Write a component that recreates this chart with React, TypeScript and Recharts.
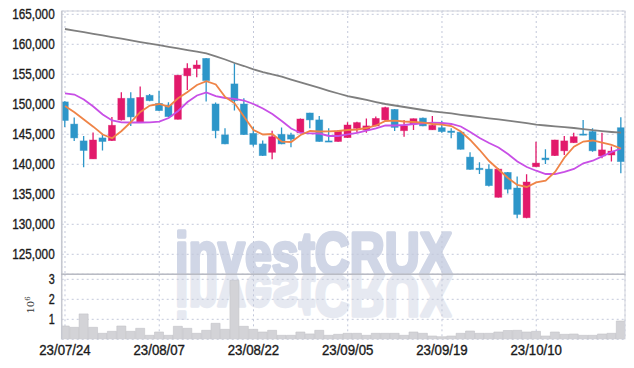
import React from 'react';
import { ComposedChart, Bar, Line, XAxis, YAxis, CartesianGrid } from 'recharts';

const dates = [
  '23/07/24', '23/07/25', '23/07/26', '23/07/27', '23/07/28', '23/07/31', '23/08/01', '23/08/02', '23/08/03', '23/08/04',
  '23/08/07', '23/08/08', '23/08/09', '23/08/10', '23/08/11', '23/08/14', '23/08/16', '23/08/17', '23/08/18', '23/08/21',
  '23/08/22', '23/08/23', '23/08/24', '23/08/25', '23/08/28', '23/08/29', '23/08/30', '23/08/31', '23/09/01', '23/09/04',
  '23/09/05', '23/09/06', '23/09/07', '23/09/08', '23/09/11', '23/09/12', '23/09/13', '23/09/14', '23/09/15', '23/09/18',
  '23/09/19', '23/09/20', '23/09/21', '23/09/22', '23/09/25', '23/09/26', '23/09/27', '23/10/04', '23/10/05', '23/10/06',
  '23/10/10', '23/10/11', '23/10/12', '23/10/13', '23/10/16', '23/10/17', '23/10/18', '23/10/19', '23/10/20', '23/10/23',
];

const opens = [
  150400, 146700, 143900, 140900, 144400, 143950, 147400, 151000, 146950, 151500,
  150150, 149850, 147500, 154750, 155950, 157650, 150050, 144900, 153400, 150050,
  145150, 143400, 142000, 145000, 144900, 145250, 148550, 147400, 143900, 143800,
  144450, 146000, 145700, 146400, 147400, 149150, 145600, 146700, 147700, 145750,
  146100, 145550, 145350, 141200, 139350, 139200, 134500, 138650, 136050, 131100,
  139600, 141050, 141450, 142250, 143600, 145050, 145450, 141400, 141550, 146100,
];
const closes = [
  147300, 144400, 142300, 144050, 143800, 146500, 151000, 147900, 151150, 150600,
  148950, 147950, 154850, 156000, 156550, 153950, 145600, 143400, 150600, 144950,
  143300, 141450, 144600, 143400, 144200, 147550, 147400, 143800, 143750, 145550,
  146550, 146950, 146400, 147650, 149450, 146150, 146400, 147600, 146400, 146500,
  145450, 145300, 142500, 139150, 139100, 136450, 139200, 135850, 131650, 137050,
  140200, 140750, 144050, 143900, 144600, 144900, 142250, 142400, 142200, 140450,
];
const highs = [
  150500, 147800, 144700, 145300, 145000, 147900, 152000, 152000, 152950, 151700,
  152250, 150350, 154900, 156850, 157350, 157700, 150300, 146000, 156850, 151000,
  146250, 143950, 145600, 146150, 145250, 147650, 148600, 148050, 146000, 145700,
  147000, 147100, 147650, 147950, 149600, 149200, 147400, 147650, 147800, 148050,
  147250, 146000, 145400, 142000, 140350, 140000, 139350, 138700, 137950, 138350,
  143750, 142500, 144100, 144700, 145250, 147400, 146000, 145250, 142950, 147850,
];
const lows = [
  146200, 143900, 139500, 140900, 142300, 143900, 147300, 146400, 146900, 150500,
  148900, 147900, 147450, 152400, 154500, 150450, 144350, 143350, 148950, 144900,
  142950, 141400, 140850, 143350, 142850, 145200, 146000, 143750, 143700, 143750,
  144400, 145250, 145250, 146350, 147100, 145550, 144600, 145700, 146350, 145700,
  145250, 144350, 142450, 139100, 138400, 136300, 134450, 135150, 131000, 131000,
  139550, 140050, 141400, 141550, 143550, 144850, 142100, 141000, 140450, 138500,
];
const volumes = [
  665000, 600000, 1270000, 600000, 300000, 400000, 665000, 400000, 550000, 200000,
  365000, 200000, 650000, 550000, 300000, 450000, 800000, 500000, 2950000, 650000,
  500000, 365000, 450000, 200000, 200000, 365000, 270000, 450000, 200000, 250000,
  300000, 300000, 200000, 300000, 300000, 300000, 200000, 365000, 300000, 165000,
  130000, 165000, 300000, 415000, 300000, 300000, 365000, 440000, 450000, 365000,
  400000, 165000, 365000, 250000, 265000, 200000, 200000, 265000, 300000, 915000,
];
const ma5 = [
  149720, 148670, 147470, 146270, 144970, 144330, 145550, 147050, 148720, 149800,
  150050, 149600, 151000, 152050, 153220, 153850, 153300, 151220, 150170, 147930,
  145720, 144970, 145050, 143770, 143720, 144880, 145550, 145470, 145500, 145550,
  145720, 145800, 146050, 146470, 147220, 147270, 147130, 147050, 146930, 146720,
  146630, 146380, 145470, 144050, 142380, 140550, 139130, 137720, 136550, 136220,
  136970, 137270, 138720, 141130, 142930, 143800, 143970, 143600, 143220, 142630,
];
const ma10 = [
  151830, 151630, 150800, 149630, 148300, 147300, 147000, 146970, 146970, 147000,
  147100, 147720, 148880, 150380, 151470, 151970, 151380, 151050, 150920, 150630,
  150050, 149300, 148380, 147220, 145970, 145220, 145170, 145130, 144720, 144720,
  144970, 145220, 145630, 146000, 146500, 146470, 146550, 146720, 146830, 146930,
  146880, 146720, 146300, 145380, 144380, 143550, 142800, 141720, 140470, 139550,
  138930, 138380, 138380, 138720, 139220, 140170, 140600, 141330, 142050, 142630,
];
const ma60 = [
  162550, 162280, 162020, 161730, 161470, 161200, 160930, 160670, 160380, 160120,
  159850, 159580, 159320, 159030, 158770, 158470, 157970, 157470, 156880, 156380,
  155830, 155380, 154970, 154600, 154130, 153670, 153180, 152720, 152250, 151800,
  151380, 151050, 150720, 150380, 150050, 149800, 149550, 149300, 149050, 148830,
  148670, 148470, 148250, 148050, 147850, 147650, 147480, 147280, 147080, 146850,
  146630, 146470, 146330, 146180, 146050, 145880, 145680, 145520, 145380, 145270,
];

const xTicks = [0, 10, 20, 30, 40, 50];
const priceTicks = [125000, 130000, 135000, 140000, 145000, 150000, 155000, 160000, 165000];
const volTicks = [1000000, 2000000, 3000000];

const data = dates.map((d, i) => ({
  i,
  date: d,
  open: opens[i],
  close: closes[i],
  high: highs[i],
  low: lows[i],
  range: [lows[i], highs[i]],
  vol: volumes[i],
  ma5: ma5[i],
  ma10: ma10[i],
  ma60: ma60[i],
}));

const RED = '#e2196b';
const BLUE = '#2d96c9';
const FONT = "'Liberation Sans', Arial, sans-serif";
const GRID = '#c3c8da';

const Candle = (props: any) => {
  const { x, y, width, height, payload } = props;
  if (!payload || height == null) return null;
  const { open, close, high, low } = payload;
  const up = close >= open;
  const color = up ? RED : BLUE;
  const k = height / (high - low || 1);
  const yO = y + (high - open) * k;
  const yC = y + (high - close) * k;
  const top = Math.min(yO, yC);
  const h = Math.max(Math.abs(yC - yO), 1.2);
  const cx = x + width / 2;
  return (
    <g>
      <line x1={cx} x2={cx} y1={y} y2={y + height} stroke={color} strokeWidth={1.3} />
      <rect x={x} y={top} width={width} height={h} fill={color} stroke={color} strokeOpacity={0.5} strokeWidth={0.8} />
    </g>
  );
};

const PriceTick = (props: any) => {
  const { x, y, payload } = props;
  const label = Number(payload.value).toLocaleString('en-US');
  return (
    <text x={x} y={y} dy="0.36em" textAnchor="end" fontSize={14} fontFamily={FONT} fill="#1a1a1a" stroke="#1a1a1a" strokeWidth={0.35} textLength={42.5} lengthAdjust="spacingAndGlyphs">{label}</text>
  );
};

const VolTick = (props: any) => {
  const { x, y, payload } = props;
  return (
    <text x={x} y={y} dy="0.36em" textAnchor="end" fontSize={14} fontFamily={FONT} fill="#1a1a1a" stroke="#1a1a1a" strokeWidth={0.35} textLength={6} lengthAdjust="spacingAndGlyphs">{String(payload.value / 1000000)}</text>
  );
};

const DateTick = (props: any) => {
  const { x, y, payload } = props;
  return (
    <text x={x} y={y} dy="0.71em" textAnchor="middle" fontSize={14} fontFamily={FONT} fill="#1a1a1a" stroke="#1a1a1a" strokeWidth={0.35} textLength={51.5} lengthAdjust="spacingAndGlyphs">{dates[payload.value]}</text>
  );
};

const WM_FONT = "'Liberation Sans', Arial, sans-serif";

export default function App() {
  return (
    <div style={{ position: 'absolute', left: 0, top: 0, width: 634, height: 368, background: '#fff', overflow: 'hidden' }}>
      <svg width={634} height={368} style={{ position: 'absolute', left: 0, top: 0 }}>
        <defs>
          <clipPath id="volClip"><rect x={62} y={275} width={563} height={64.3} /></clipPath>
          <clipPath id="priceClip"><rect x={62} y={11} width={563} height={263} /></clipPath>
        </defs>
        <g clipPath="url(#priceClip)">
          <text x={175} y={273.8} fontSize={59} fontWeight="bold" fill="#d0d6e6" stroke="#d0d6e6" strokeWidth={3.4} strokeLinejoin="round" textLength={277} lengthAdjust="spacingAndGlyphs" fontFamily={WM_FONT}>investCRUX</text>
        </g>
        <g clipPath="url(#volClip)">
          <g transform="translate(0,549) scale(1,-1)">
            <text x={175} y={273.8} fontSize={59} fontWeight="bold" fill="#e6e9f1" stroke="#e6e9f1" strokeWidth={3.4} strokeLinejoin="round" textLength={277} lengthAdjust="spacingAndGlyphs" fontFamily={WM_FONT}>investCRUX</text>
          </g>
        </g>
      </svg>
      <div style={{ position: 'absolute', left: 0, top: 0 }}>
        <ComposedChart width={634} height={275} data={data} margin={{ top: 11, right: 9, left: 0, bottom: 0.7 }}>
          <CartesianGrid strokeDasharray="2 3" stroke={GRID} />
          <XAxis type="number" dataKey="i" domain={[-0.35, 59.42]} ticks={xTicks} hide allowDataOverflow />
          <YAxis type="number" domain={[121667, 165550]} ticks={priceTicks} width={61.7} axisLine={false} tickLine={false} tickSize={6} tickMargin={1} tick={<PriceTick />} allowDataOverflow interval={0} />
          <Bar dataKey="range" barSize={7} shape={<Candle />} isAnimationActive={false} />
          <Line type="linear" dataKey="ma60" stroke="#7f7f7f" strokeWidth={1.8} dot={false} isAnimationActive={false} />
          <Line type="linear" dataKey="ma10" stroke="#c84fe6" strokeWidth={1.8} dot={false} isAnimationActive={false} />
          <Line type="linear" dataKey="ma5" stroke="#ef8447" strokeWidth={1.8} dot={false} isAnimationActive={false} />
        </ComposedChart>
      </div>
      <div style={{ position: 'absolute', left: 0, top: 0 }}>
        <ComposedChart width={634} height={368} data={data} margin={{ top: 274.3, right: 9, left: 0, bottom: 0 }}>
          <CartesianGrid strokeDasharray="2 3" stroke={GRID} />
          <XAxis type="number" dataKey="i" domain={[-0.35, 59.42]} ticks={xTicks} height={28.7} axisLine={false} tickLine={false} tickSize={4} tickMargin={2} tick={<DateTick />} allowDataOverflow interval={0} />
          <YAxis type="number" domain={[0, 3250000]} ticks={volTicks} width={61.7} axisLine={false} tickLine={false} tickSize={6} tickMargin={1} tick={<VolTick />} allowDataOverflow interval={0} />
          <Bar dataKey="vol" barSize={9} fill="#d3d3d7" stroke="#c2c2c8" strokeWidth={0.6} isAnimationActive={false} />
        </ComposedChart>
      </div>
      <svg width={634} height={368} style={{ position: 'absolute', left: 0, top: 0, pointerEvents: 'none' }}>
        <rect x={61.7} y={11} width={563.3} height={263.3} fill="none" stroke="#d2d4dc" strokeWidth={1} />
        <line x1={61.7} x2={61.7} y1={11} y2={339.3} stroke="#c6c8d0" strokeWidth={1.5} />
        <line x1={625} x2={625} y1={274} y2={339.3} stroke="#d2d4dc" strokeWidth={1} />
        <line x1={61} x2={625.5} y1={274.3} y2={274.3} stroke="#b9bbc4" strokeWidth={1.5} />
        <text transform="translate(33.5,313.5) rotate(-90)" fontSize={10} fontFamily="'DejaVu Serif', serif" fill="#333">10<tspan dy={-4} fontSize={7}>6</tspan></text>
      </svg>
    </div>
  );
}
